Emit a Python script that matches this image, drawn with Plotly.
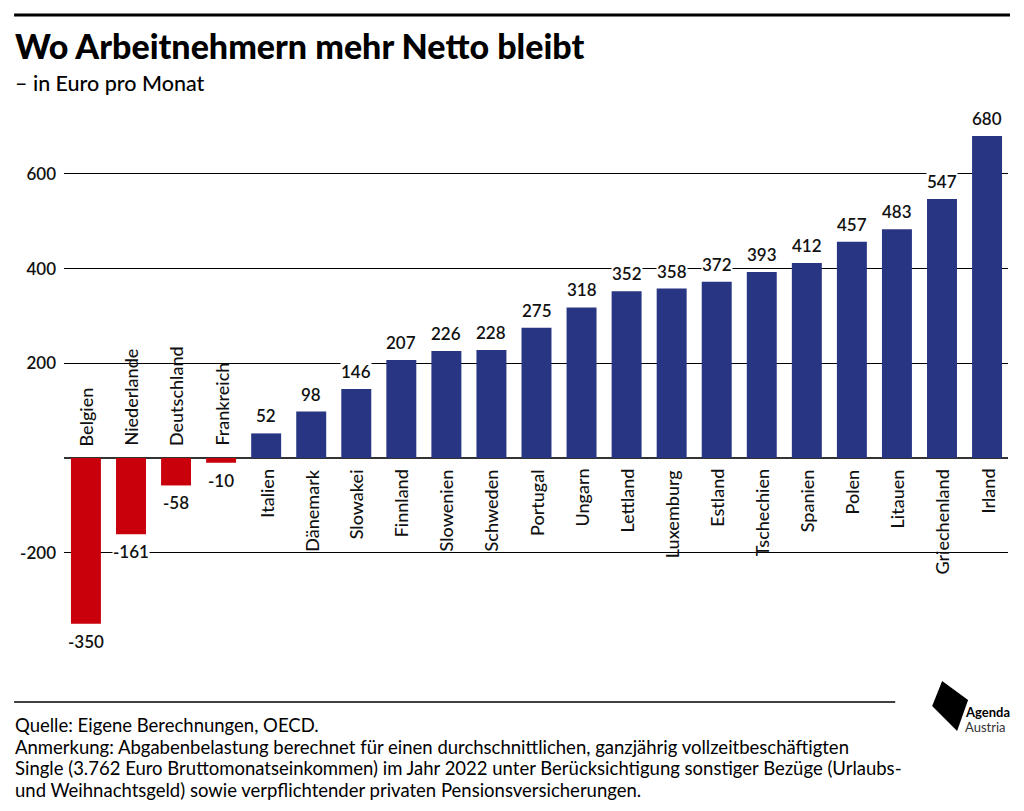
import plotly.graph_objects as go

countries = ["Belgien", "Niederlande", "Deutschland", "Frankreich", "Italien", "Dänemark",
             "Slowakei", "Finnland", "Slowenien", "Schweden", "Portugal", "Ungarn",
             "Lettland", "Luxemburg", "Estland", "Tschechien", "Spanien", "Polen",
             "Litauen", "Griechenland", "Irland"]
values = [-350, -161, -58, -10, 52, 98, 146, 207, 226, 228, 275, 318, 352, 358, 372,
          393, 412, 457, 483, 547, 680]
tick_vals = [-200, 200, 400, 600]
tick_text = ["-200", "200", "400", "600"]

title = "Wo Arbeitnehmern mehr Netto bleibt"
subtitle = "– in Euro pro Monat"
notes = [
    "Quelle: Eigene Berechnungen, OECD.",
    "Anmerkung: Abgabenbelastung berechnet für einen durchschnittlichen, ganzjährig vollzeitbeschäftigten",
    "Single (3.762 Euro Bruttomonatseinkommen) im Jahr 2022 unter Berücksichtigung sonstiger Bezüge (Urlaubs-",
    "und Weihnachtsgeld) sowie verpflichtender privaten Pensionsversicherungen.",
]

BLUE = "#283583"
RED = "#c9000c"
FONT = "Lato"

OFF = 8  # page body margin
W, H = 1024 - OFF, 811 - OFF
# plot area in page pixel coordinates
L, R, T, B = 62, 1008, 110, 660


def px(x):
    return (x - L) / (R - L)


def py(y):
    return (B - y) / (B - T)


colors = [RED if v < 0 else BLUE for v in values]
idx = list(range(len(countries)))

fig = go.Figure(go.Bar(x=idx, y=values, marker=dict(color=colors, line=dict(width=0)),
                       width=0.665, hoverinfo="skip"))

ann = []
for i, (c, v) in enumerate(zip(countries, values)):
    ann.append(dict(x=i, y=v, xref="x", yref="y", text=str(v), showarrow=False,
                    yanchor="bottom" if v >= 0 else "top", yshift=6 if v >= 0 else -6,
                    bgcolor="white", borderpad=0,
                    font=dict(family=FONT, size=17, color="#111111", weight=600)))
    ann.append(dict(x=i, y=0, xref="x", yref="y", text=c, showarrow=False, textangle=-90,
                    yanchor="top" if v >= 0 else "bottom", yshift=-9 if v >= 0 else 10,
                    font=dict(family=FONT, size=18, color="#111111", weight=500)))

ann.append(dict(x=px(11), y=py(45), xref="paper", yref="paper", text=title, showarrow=False,
                xanchor="left", yanchor="middle",
                font=dict(family=FONT, size=34, color="black", weight=900)))
ann.append(dict(x=px(11), y=py(83), xref="paper", yref="paper", text=subtitle, showarrow=False,
                xanchor="left", yanchor="middle",
                font=dict(family=FONT, size=21.5, color="black", weight=500)))
for k, line in enumerate(notes):
    ann.append(dict(x=px(11), y=py(725 + 21.5 * k), xref="paper", yref="paper", text=line,
                    showarrow=False, xanchor="left", yanchor="middle",
                    font=dict(family=FONT, size=18.5, color="black")))
ann.append(dict(x=px(963), y=py(712), xref="paper", yref="paper", text="<b>Agenda</b>",
                showarrow=False, xanchor="left", yanchor="middle",
                font=dict(family=FONT, size=13, color="black")))
ann.append(dict(x=px(963), y=py(727), xref="paper", yref="paper", text="Austria",
                showarrow=False, xanchor="left", yanchor="middle",
                font=dict(family=FONT, size=13, color="#333333")))

logo = [(942, 681), (968, 700), (957, 731), (932, 706)]
path = "M " + " L ".join(f"{px(a):.5f},{py(b):.5f}" for a, b in logo) + " Z"

shapes = [
    dict(type="line", xref="paper", yref="paper", x0=px(12), x1=px(1010), y0=py(15), y1=py(15),
         line=dict(color="black", width=3)),
    dict(type="line", xref="paper", yref="paper", x0=px(12), x1=px(895), y0=py(702), y1=py(702),
         line=dict(color="black", width=1.5)),
    dict(type="path", xref="paper", yref="paper", path=path, fillcolor="black",
         line=dict(color="black", width=0)),
]

fig.update_layout(
    width=W, height=H,
    margin=dict(l=L - OFF, r=(W + OFF) - R, t=T - OFF, b=(H + OFF) - B, pad=0),
    paper_bgcolor="white", plot_bgcolor="white",
    showlegend=False,
    annotations=ann, shapes=shapes,
    xaxis=dict(range=[-0.487, 20.465], showticklabels=False, showgrid=False, zeroline=False,
               ticks="", fixedrange=True),
    yaxis=dict(range=[-426.6, 735.0], tickvals=tick_vals, ticktext=tick_text,
               showgrid=True, gridcolor="black", gridwidth=1,
               zeroline=True, zerolinecolor="#333333", zerolinewidth=1.5,
               ticks="", ticklabelstandoff=7,
               tickfont=dict(family=FONT, size=17, color="#111111", weight=600),
               fixedrange=True),
)

fig.write_html("out.html")
